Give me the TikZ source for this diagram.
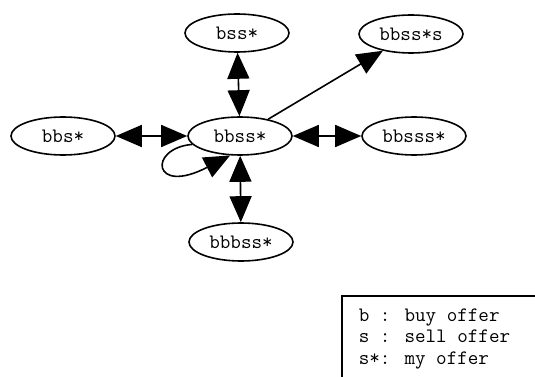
\documentclass[tikz,border=0pt]{standalone}
\usepackage{fontspec}
\usetikzlibrary{arrows.meta,shapes.geometric}

\begin{document}
\begin{tikzpicture}[x=1pt,y=-1pt,line width=1.6pt,
  every node/.style={ellipse,draw,minimum width=104pt,minimum height=38pt,inner sep=0pt,
    font=\ttfamily\fontsize{20.5}{21.5}\selectfont},
  both/.style={{Triangle[length=26pt,width=22pt]}-{Triangle[length=26pt,width=22pt]}},
  one/.style={-{Triangle[length=26pt,width=22pt]}}]
  \useasboundingbox (0,0) rectangle (535,377);
  \node (n1) at (240,136) {bbss*};
  \node (n2) at (237,33)  {bss*};
  \node (n3) at (411,34)  {bbss*s};
  \node (n4) at (63,136)  {bbs*};
  \node (n5) at (414,136) {bbsss*};
  \node (n6) at (241,242) {bbbss*};

  % legend
  \draw (342,296) rectangle (560,400);
  \node[draw=none,rectangle,minimum width=0pt,minimum height=0pt,anchor=north west,align=left]
    (lg) at (358,308) {b : buy offer\\s : sell offer\\s*: my offer};

  \foreach \from/\to in {n4/n1,n2/n1,n1/n5,n1/n6}
    \draw[both] (\from) -- (\to);
  \draw[one] (n1) -- (n3);
  \draw[one] (n1.190) .. controls (148,148) and (152,196) .. (n1.243);

\end{tikzpicture}
\end{document}
